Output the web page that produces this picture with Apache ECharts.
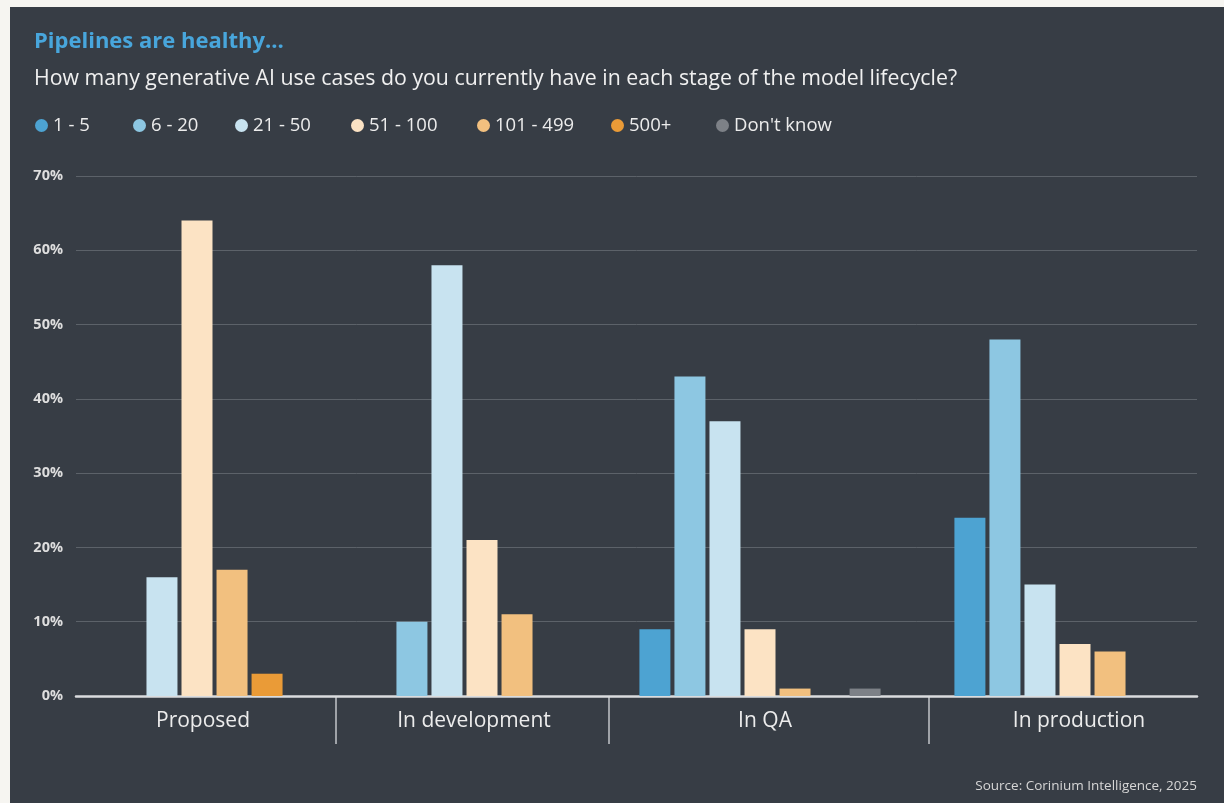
<!DOCTYPE html>
<html>
<head>
<meta charset="utf-8">
<script src="https://cdn.jsdelivr.net/npm/echarts@6/dist/echarts.min.js"></script>
<style>
html,body{margin:0;padding:0;background:#f6f5f1;width:1224px;height:803px;overflow:hidden;}
#panel{position:absolute;left:10px;top:7px;width:1214px;height:796px;background:#373d45;}
#chart{position:absolute;left:0;top:0;width:1224px;height:803px;}
</style>
</head>
<body>
<div id="panel"></div>
<div id="chart"></div>
<script>
// ---- data ----
const categories = ['Proposed', 'In development', 'In QA', 'In production'];
const seriesNames = ['1 - 5', '6 - 20', '21 - 50', '51 - 100', '101 - 499', '500+', "Don't know"];
const v1to5     = [0, 0, 9, 24];
const v6to20    = [0, 10, 43, 48];
const v21to50   = [16, 58, 37, 15];
const v51to100  = [64, 21, 9, 7];
const v101to499 = [17, 11, 1, 6];
const v500plus  = [3, 0, 0, 0];
const vDontKnow = [0, 0, 1, 0];
const yMin = 0, yMax = 70, yStep = 10;

const values = [v1to5, v6to20, v21to50, v51to100, v101to499, v500plus, vDontKnow];
const colors = ['#4da3d2', '#8dc7e2', '#c8e3f0', '#fce3c4', '#f2c07f', '#ea9b37', '#7d8187'];

// ---- layout ----
const FONT = 'Open Sans';
const TOP = 176, BOTTOM = 107;
const groupCenters = [197, 482, 760, 1075];
const labelShift = [6, -8, 5, 4];
const HALF = 140;
const legendLefts = [30, 128, 230, 346, 472, 606, 711];
const separatorsX = [336, 609, 929];

const grids = [{ left: 76, right: 27, top: TOP, bottom: BOTTOM }];
groupCenters.forEach(c => grids.push({ left: c - HALF, width: 2 * HALF, top: TOP, bottom: BOTTOM }));

const xAxes = [{
  gridIndex: 0, type: 'category', data: categories,
  axisLine: { show: true, lineStyle: { color: '#dadcde', width: 2.5 } },
  axisTick: { show: false }, axisLabel: { show: false }, splitLine: { show: false }
}];
categories.forEach((cat, i) => {
  const s = labelShift[i];
  xAxes.push({
    gridIndex: i + 1, type: 'category', data: [cat],
    axisLine: { show: false }, axisTick: { show: false }, splitLine: { show: false },
    axisLabel: {
      color: '#ececec', fontSize: 21, fontFamily: FONT, margin: 15,
      padding: s >= 0 ? [0, 0, 0, 2 * s] : [0, -2 * s, 0, 0]
    }
  });
});

const yAxes = [{
  gridIndex: 0, type: 'value', min: yMin, max: yMax, interval: yStep,
  axisLine: { show: false }, axisTick: { show: false },
  axisLabel: { formatter: '{value}%', color: '#dedede', fontSize: 14.5, fontWeight: 'bold', fontFamily: FONT, margin: 13 },
  splitLine: { lineStyle: { color: '#5c6269', width: 1 } }
}];
categories.forEach((c, i) => {
  yAxes.push({ gridIndex: i + 1, type: 'value', min: yMin, max: yMax, interval: yStep, show: false, splitLine: { show: false } });
});

const series = [];
categories.forEach((cat, ci) => {
  seriesNames.forEach((name, si) => {
    series.push({
      type: 'bar', name: name,
      xAxisIndex: ci + 1, yAxisIndex: ci + 1,
      data: [values[si][ci]],
      barWidth: 31, barGap: '13%',
      itemStyle: { color: colors[si] },
      emphasis: { disabled: true },
      z: 3
    });
  });
});

const legends = seriesNames.map((n, i) => ({
  data: [n], left: legendLefts[i], top: 111, icon: 'circle',
  itemWidth: 13, itemHeight: 13, itemGap: 0, selectedMode: false,
  textStyle: { color: '#ececec', fontSize: 18.5, fontFamily: FONT }
}));

const graphics = separatorsX.map(x => ({
  type: 'line', shape: { x1: x, y1: 697, x2: x, y2: 744 },
  style: { stroke: '#c3c6ca', lineWidth: 1.5 }, silent: true
}));

const option = {
  backgroundColor: 'transparent',
  animation: false,
  textStyle: { fontFamily: FONT },
  title: [
    { text: 'Pipelines are healthy...', left: 29, top: 26,
      textStyle: { color: '#48a6dc', fontSize: 22, fontWeight: 'bold', fontFamily: FONT } },
    { text: 'How many generative AI use cases do you currently have in each stage of the model lifecycle?', left: 29, top: 63,
      textStyle: { color: '#f0f0f0', fontSize: 21.3, fontWeight: 'normal', fontFamily: FONT } },
    { text: 'Source: Corinium Intelligence, 2025', right: 22, top: 774,
      textStyle: { color: '#d6d6d6', fontSize: 13.5, fontWeight: 'normal', fontFamily: FONT } }
  ],
  legend: legends,
  grid: grids,
  xAxis: xAxes,
  yAxis: yAxes,
  series: series,
  graphic: graphics
};

const chart = echarts.init(document.getElementById('chart'), null, { renderer: 'canvas' });
chart.setOption(option);
</script>
</body>
</html>
